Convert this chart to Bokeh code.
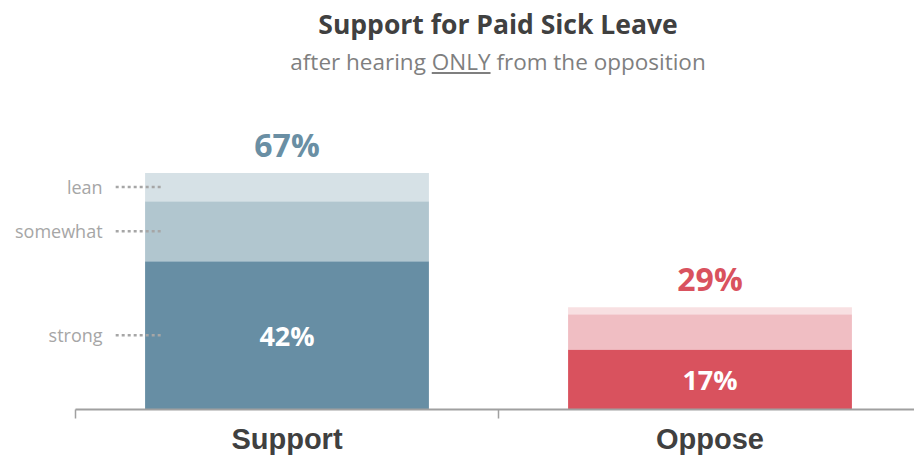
import numpy as np
from bokeh.plotting import figure
from bokeh.models import ColumnDataSource, Range1d, FixedTicker, Div
from bokeh.layouts import column
from bokeh.core.properties import value
from bokeh.embed import file_html
from bokeh.resources import INLINE

# ---- data ----
TITLE = "Support for Paid Sick Leave"
SUB_BEFORE = "after hearing "
SUB_EMPH = "ONLY"
SUB_AFTER = " from the opposition"
categories = ["Support", "Oppose"]
levels = ["strong", "somewhat", "lean"]
strong = [42, 17]
somewhat = [17, 10]
lean = [8, 2]

# ---- styles ----
shades = {
    "Support": ["#678ea4", "#b1c6cf", "#d6e1e6"],
    "Oppose": ["#d9525e", "#f0bec3", "#f8e0e2"],
}
total_colors = {"Support": "#6a8fa4", "Oppose": "#d9525e"}

W = 914
HEAD_H = 84
PX_PER_CAT = 423.0
LEFT_PX = 75.0
X0 = -LEFT_PX / PX_PER_CAT
X1 = (W - LEFT_PX) / PX_PER_CAT

xs = np.arange(len(categories)) + 0.5
vals = np.array([strong, somewhat, lean], dtype=float)
tops = np.cumsum(vals, axis=0)
bottoms = tops - vals
totals = tops[-1]

header = Div(
    text=(
        f'<div style="width:{W}px;box-sizing:border-box;padding-left:82px;padding-top:8px;'
        "text-align:center;font-family:'Open Sans',sans-serif;\">"
        f'<div style="font-size:26.5px;font-weight:bold;color:#404040;line-height:32px;">{TITLE}</div>'
        f'<div style="font-size:22.5px;color:#7f7f7f;line-height:28px;margin-top:8px;">'
        f'{SUB_BEFORE}<u>{SUB_EMPH}</u>{SUB_AFTER}</div></div>'
    ),
    width=W, height=HEAD_H, margin=0,
)

p = figure(
    width=W, height=458 - HEAD_H,
    x_range=Range1d(X0, X1), y_range=Range1d(0, 92.07),
    output_backend="svg", toolbar_location=None,
    min_border_left=0, min_border_right=0, min_border_top=0, min_border_bottom=49,
    y_axis_location=None, background_fill_color="white", border_fill_color="white",
)
p.outline_line_color = None
p.grid.visible = False

for i, lvl in enumerate(levels):
    src = ColumnDataSource(dict(
        x=xs, bottom=bottoms[i], top=tops[i],
        color=[shades[c][i] for c in categories],
    ))
    p.vbar(x="x", width=0.671, bottom="bottom", top="top",
           fill_color="color", line_color=None, source=src)

# totals above bars
tot_src = ColumnDataSource(dict(
    x=xs, y=totals + 8.2, text=[f"{int(t)}%" for t in totals],
    color=[total_colors[c] for c in categories],
))
p.text(x="x", y="y", text="text", text_color="color", source=tot_src,
       text_align="center", text_baseline="middle",
       text_font=value("Open Sans"), text_font_style="bold", text_font_size="32px")

# strong values inside bars
in_src = ColumnDataSource(dict(
    x=xs, y=np.array(strong) / 2.0, text=[f"{v}%" for v in strong],
))
p.text(x="x", y="y", text="text", text_color="white", source=in_src,
       text_align="center", text_baseline="middle",
       text_font=value("Open Sans"), text_font_style="bold", text_font_size="27px")

# side level labels for the first bar
mids = (bottoms[:, 0] + tops[:, 0]) / 2.0
side_src = ColumnDataSource(dict(
    y=mids, text=levels,
    x=np.full(len(levels), 0.064),
    x0=np.full(len(levels), 0.095), x1=np.full(len(levels), 0.205),
))
p.text(x="x", y="y", text="text", source=side_src, text_color="#a6a6a6",
       text_align="right", text_baseline="middle",
       text_font=value("Open Sans"), text_font_size="18px")
p.segment(x0="x0", y0="y", x1="x1", y1="y", source=side_src,
          line_color="#a6a6a6", line_width=2.5, line_dash="3 3")

ax = p.xaxis[0]
ax.bounds = (0, X1)
ax.ticker = FixedTicker(ticks=list(xs), minor_ticks=[0.0, 1.0])
ax.major_label_overrides = {float(x): c for x, c in zip(xs, categories)}
ax.major_tick_line_color = None
ax.major_tick_out = 0
ax.major_tick_in = 0
ax.minor_tick_out = 9
ax.minor_tick_in = 0
ax.minor_tick_line_color = "#a0a0a0"
ax.minor_tick_line_width = 1.5
ax.axis_line_color = "#a0a0a0"
ax.axis_line_width = 2
ax.major_label_standoff = 4
ax.major_label_text_font = "Liberation Sans"
ax.major_label_text_font_style = "bold"
ax.major_label_text_font_size = "29px"
ax.major_label_text_color = "#404040"

layout = column(header, p, spacing=0)
open("out.html", "w").write(file_html(layout, INLINE))
